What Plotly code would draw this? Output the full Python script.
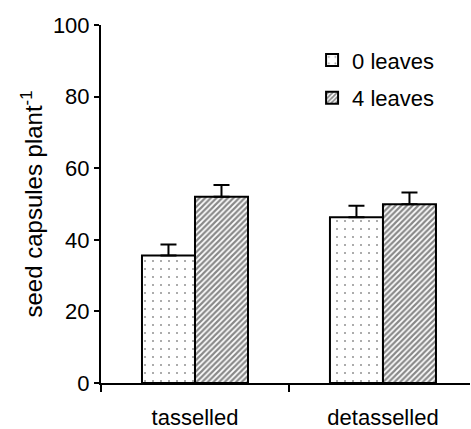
import plotly.graph_objects as go

categories = ["tasselled", "detasselled"]
series_names = ["0 leaves", "4 leaves"]
values_0 = [35.6, 46.3]
errors_0 = [3.1, 3.2]
values_4 = [52.0, 49.9]
errors_4 = [3.3, 3.3]
y_ticks = [0, 20, 40, 60, 80, 100]

FONT = "Liberation Sans, Arial, sans-serif"

fig = go.Figure()
fig.add_trace(go.Bar(
    x=categories, y=values_0, name=series_names[0], legendgroup="a",
    marker=dict(color="white", line=dict(color="black", width=2),
                pattern=dict(shape=".", fgcolor="#222222", bgcolor="white",
                             size=8, solidity=0.05, fillmode="overlay")),
    error_y=dict(type="data", array=errors_0, arrayminus=[0, 0], symmetric=False,
                 color="black", thickness=2, width=8),
))
fig.add_trace(go.Bar(
    x=categories, y=values_4, name=series_names[1], legendgroup="b",
    marker=dict(color="white", line=dict(color="black", width=2),
                pattern=dict(shape="/", fgcolor="#111111", bgcolor="white",
                             size=4, solidity=0.55, fillmode="overlay")),
    error_y=dict(type="data", array=errors_4, arrayminus=[0, 0], symmetric=False,
                 color="black", thickness=2, width=8),
))

fig.update_layout(
    width=471, height=429,
    margin=dict(l=101, r=1, t=25, b=46, autoexpand=False),
    paper_bgcolor="white", plot_bgcolor="white",
    font=dict(family=FONT, size=22, color="black"),
    barmode="group", bargap=0.436, bargroupgap=0,
    showlegend=True,
    legend=dict(x=0.572, y=0.96, xanchor="left", yanchor="top",
                font=dict(size=22), tracegroupgap=6,
                bgcolor="rgba(0,0,0,0)"),
    xaxis=dict(type="category", categoryorder="array", categoryarray=categories,
               range=[-0.5, 1.463], showline=True, linecolor="black", linewidth=2,
               ticks="outside", tickson="boundaries", ticklen=7, tickwidth=2,
               tickcolor="black", showgrid=False, zeroline=False, automargin=False,
               tickfont=dict(size=22), ticklabelstandoff=14),
    yaxis=dict(range=[0, 100], tickvals=y_ticks, showline=True, linecolor="black",
               linewidth=2, ticks="outside", ticklen=5, tickwidth=2, tickcolor="black",
               showgrid=False, zeroline=False, tickfont=dict(size=22), automargin=False,
               title=dict(text="seed capsules plant<sup>-1</sup>", font=dict(size=24),
                          standoff=3)),
)

fig.write_html("out.html", config={"displayModeBar": False},
               post_script="document.body.style.margin='0';document.body.style.overflow='hidden';")
